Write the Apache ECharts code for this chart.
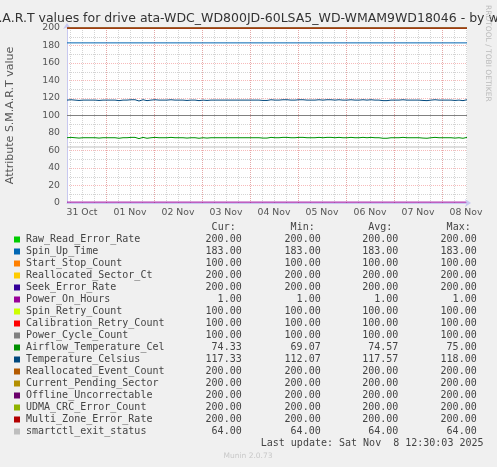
<!DOCTYPE html>
<html><head><meta charset="utf-8">
<script src="https://cdn.jsdelivr.net/npm/echarts@6/dist/echarts.min.js"></script>
<style>html,body{margin:0;padding:0;background:#F0F0F0}#c{width:497px;height:467px}</style>
</head><body><div id="c"></div>
<script>
// ---- time axis (hours after 31 Oct 00:00) ----
const startHour = 4.5, endHour = 204.5;
const dayLabels = ['31 Oct','01 Nov','02 Nov','03 Nov','04 Nov','05 Nov','06 Nov','07 Nov','08 Nov'];
const dayLabelHours = [12,36,60,84,108,132,156,180,204];
const dayBoundaryHours = [24,48,72,96,120,144,168,192];
const sixHourTicks = [6,12,18,24,30,36,42,48,54,60,66,72,78,84,90,96,102,108,114,120,126,132,138,144,150,156,162,168,174,180,186,192,198,204];
const yTicks = [0,20,40,60,80,100,120,140,160,180,200];

// ---- series ----
const seriesNames = ['Raw_Read_Error_Rate','Spin_Up_Time','Start_Stop_Count','Reallocated_Sector_Ct','Seek_Error_Rate','Power_On_Hours','Spin_Retry_Count','Calibration_Retry_Count','Power_Cycle_Count','Airflow_Temperature_Cel','Temperature_Celsius','Reallocated_Event_Count','Current_Pending_Sector','Offline_Uncorrectable','UDMA_CRC_Error_Count','Multi_Zone_Error_Rate','smartctl_exit_status'];
const seriesColors = ['#00CC00','#0066B3','#FF8000','#FFCC00','#330099','#990099','#CCFF00','#FF0000','#808080','#008F00','#00487D','#B35A00','#B38F00','#6B006B','#8FB300','#B30000','#BEBEBE'];

// constant series: value at start and end of the window
const spanHours = [startHour, endHour];
const rawReadErrorRate = [200, 200];
const spinUpTime = [183, 183];
const startStopCount = [100, 100];
const reallocatedSectorCt = [200, 200];
const seekErrorRate = [200, 200];
const powerOnHours = [1, 1];
const spinRetryCount = [100, 100];
const calibrationRetryCount = [100, 100];
const powerCycleCount = [100, 100];
const reallocatedEventCount = [200, 200];
const currentPendingSector = [200, 200];
const offlineUncorrectable = [200, 200];
const udmaCrcErrorCount = [200, 200];
const multiZoneErrorRate = [200, 200];
const smartctlExitStatus = [64, 64];

// hourly samples from 31 Oct 04:30 to 08 Nov 12:30
const sampleHours = Array.from({length: 201}, (_, i) => startHour + i);
const airflowTemperature = [
 74.6,74.0,75,75,74.6,74.2,74.2,74.6,74.6,74.6,74.6,74.6,74.6,73.5,74.6,74.6,74.2,74.6,74.6,74.6,74.6,74.6,74.6,74.6,
 74.6,74.0,74.0,74.2,74.6,74.0,74.6,74.2,75,74.2,75,74.6,73.6,75,75,74.6,74.0,74.6,74.6,75,75,75,74.6,74.6,
 74.6,75,74.6,74.2,75,74.6,74.6,74.6,74.6,74.6,74.6,74.6,74.2,74.6,74.6,74.6,74.6,74.6,74.0,74.6,74.6,74.6,74.2,74.6,
 74.6,74.2,74.6,74.6,74.6,74.6,74.6,74.6,74.6,74.6,74.6,74.6,74.6,74.0,74.6,74.6,74.6,74.6,74.6,74.6,74.6,74.6,74.6,74.6,
 74.6,74.6,74.2,75,74.2,74.6,75,75,74.6,74.6,74.6,75,75,74.2,75,75,74.6,74.6,74.6,75,75,74.6,75,75,
 74.6,74.6,74.6,74.6,74.6,74.0,75,75,74.6,75,75,74.6,75,74.2,74.6,75,75,75,74.6,74.6,74.6,74.6,75,74.6,
 74.6,74.6,74.6,75,75,74.6,74.6,75,75,74.6,74.6,75,74.6,74.2,74.0,74.2,74.0,74.2,74.6,74.6,74.6,74.6,74.6,74.6,
 75,74.0,74.6,74.6,74.6,74.6,74.6,74.6,74.6,74.6,74.2,75,74.0,74.2,74.6,74.6,75,74.6,74.6,74.6,74.6,74.0,74.6,74.6,
 74.6,74.6,74.2,74.6,74.6,74.6,74.0,75,75
];
const temperatureCelsius = [
 117.6,117.0,118,118,117.6,117.2,117.2,117.6,117.6,117.6,117.6,117.6,117.6,116.5,117.6,117.6,117.2,117.6,117.6,117.6,117.6,117.6,117.6,117.6,
 117.6,117.0,117.0,117.2,117.6,117.0,117.6,117.2,118,117.2,118,117.6,116.6,118,118,117.6,117.0,117.6,117.6,118,118,118,117.6,117.6,
 117.6,118,117.6,117.2,118,117.6,117.6,117.6,117.6,117.6,117.6,117.6,117.2,117.6,117.6,117.6,117.6,117.6,117.0,117.6,117.6,117.6,117.2,117.6,
 117.6,117.2,117.6,117.6,117.6,117.6,117.6,117.6,117.6,117.6,117.6,117.6,117.6,117.0,117.6,117.6,117.6,117.6,117.6,117.6,117.6,117.6,117.6,117.6,
 117.6,117.6,117.2,118,117.2,117.6,118,118,117.6,117.6,117.6,118,118,117.2,118,118,117.6,117.6,117.6,118,118,117.6,118,118,
 117.6,117.6,117.6,117.6,117.6,117.0,118,118,117.6,118,118,117.6,118,117.2,117.6,118,118,118,117.6,117.6,117.6,117.6,118,117.6,
 117.6,117.6,117.6,118,118,117.6,117.6,118,118,117.6,117.6,118,117.6,117.2,117.0,117.2,117.0,117.2,117.6,117.6,117.6,117.6,117.6,117.6,
 118,117.0,117.6,117.6,117.6,117.6,117.6,117.6,117.6,117.6,117.2,118,117.0,117.2,117.6,117.6,118,117.6,117.6,117.6,117.6,117.0,117.6,117.6,
 117.6,117.6,117.2,117.6,117.6,117.6,117.0,118,118
];

// ---- legend statistics ----
const curValues = [200,183,100,200,200,1,100,100,100,74.33,117.33,200,200,200,200,200,64];
const minValues = [200,183,100,200,200,1,100,100,100,69.07,112.07,200,200,200,200,200,64];
const avgValues = [200,183,100,200,200,1,100,100,100,74.57,117.57,200,200,200,200,200,64];
const maxValues = [200,183,100,200,200,1,100,100,100,75,118,200,200,200,200,200,64];

const titleText = 'S.M.A.R.T values for drive ata-WDC_WD800JD-60LSA5_WD-WMAM9WD18046 - by week';
const yAxisTitle = 'Attribute S.M.A.R.T value';
const lastUpdate = 'Last update: Sat Nov  8 12:30:03 2025';
const footer = 'Munin 2.0.73';
const watermark = 'RRDTOOL / TOBI OETIKER';

const seriesData = [
 [spanHours, rawReadErrorRate],[spanHours, spinUpTime],[spanHours, startStopCount],[spanHours, reallocatedSectorCt],
 [spanHours, seekErrorRate],[spanHours, powerOnHours],[spanHours, spinRetryCount],[spanHours, calibrationRetryCount],
 [spanHours, powerCycleCount],[sampleHours, airflowTemperature],[sampleHours, temperatureCelsius],[spanHours, reallocatedEventCount],
 [spanHours, currentPendingSector],[spanHours, offlineUncorrectable],[spanHours, udmaCrcErrorCount],[spanHours, multiZoneErrorRate],
 [spanHours, smartctlExitStatus]
];

const MONO = '10px "DejaVu Sans Mono"';
const TXT = '#444';
const graphics = [];
graphics.push({type:'text', x:248.5, y:19, style:{text:titleText, font:'12.5px "DejaVu Sans"', fill:'#333', textAlign:'center', textVerticalAlign:'middle'}});
graphics.push({type:'text', x:488, y:5, rotation:-Math.PI/2, style:{text:watermark, font:'7.5px "DejaVu Sans"', fill:'#BBBBBB', textAlign:'left', textVerticalAlign:'middle'}});
const colRight = [241.7, 320.7, 398.3, 476.7];
const headers = ['Cur:','Min:','Avg:','Max:'];
headers.forEach((h, j) => graphics.push({type:'text', x:colRight[j]-6, y:227.5, style:{text:h, font:MONO, fill:TXT, textAlign:'right', textVerticalAlign:'middle'}}));
seriesNames.forEach((n, k) => {
  const y = 239.5 + 12*k;
  graphics.push({type:'rect', shape:{x:14, y:y-3, width:6, height:6}, style:{fill:seriesColors[k]}});
  graphics.push({type:'text', x:26, y:y, style:{text:n, font:MONO, fill:TXT, textAlign:'left', textVerticalAlign:'middle'}});
  [curValues, minValues, avgValues, maxValues].forEach((arr, j) => {
    graphics.push({type:'text', x:colRight[j], y:y, style:{text:arr[k].toFixed(2), font:MONO, fill:TXT, textAlign:'right', textVerticalAlign:'middle'}});
  });
});
graphics.push({type:'text', x:483.5, y:443, style:{text:lastUpdate, font:MONO, fill:TXT, textAlign:'right', textVerticalAlign:'middle'}});
graphics.push({type:'text', x:248, y:456, style:{text:footer, font:'7.5px "DejaVu Sans"', fill:'#C8C8C8', textAlign:'center', textVerticalAlign:'middle'}});

const axisColor = '#C8C8F0';
const majorGrid = {show:true, lineStyle:{color:'rgba(240,130,130,0.55)', width:1, type:[1,1]}};
const minorGrid = {show:true, lineStyle:{color:'#D4D4D4', width:1, type:[1,1]}};

const option = {
  animation: false,
  backgroundColor: '#F0F0F0',
  grid: {left:67, top:28, width:400, height:175, show:true, backgroundColor:'#FFFFFF', borderWidth:0,
         containLabel:false, outerBoundsMode:'none'},
  xAxis: [
    {type:'value', position:'bottom', offset:0, min:startHour, max:endHour, axisLine:{show:false}, axisLabel:{show:false},
     axisTick:{show:false, customValues:sixHourTicks}, splitLine:minorGrid, z:1},
    {type:'value', position:'bottom', offset:0, min:startHour, max:endHour, axisLine:{show:false}, axisLabel:{show:false},
     axisTick:{show:false, customValues:dayBoundaryHours}, splitLine:majorGrid, z:2},
    {type:'value', position:'bottom', offset:0, min:startHour, max:endHour,
     axisLine:{show:true, lineStyle:{color:axisColor, width:1}, symbol:['none','arrow'], symbolSize:[6,6], symbolOffset:[0,4]},
     axisTick:{show:false, customValues:dayLabelHours}, splitLine:{show:false},
     axisLabel:{show:true, customValues:dayLabelHours, margin:5, color:'#555', fontFamily:'DejaVu Sans', fontSize:9.3,
       formatter: v => dayLabels[dayLabelHours.indexOf(Math.round(v))] || ''}, z:3}
  ],
  yAxis: {type:'value', min:0, max:200, interval:20,
    name: yAxisTitle, nameLocation:'middle', nameGap:51, nameRotate:90,
    nameTextStyle:{color:'#555', fontFamily:'DejaVu Sans', fontSize:11},
    axisLine:{show:true, lineStyle:{color:axisColor, width:1}, symbol:['none','arrow'], symbolSize:[6,6], symbolOffset:[0,5]},
    axisTick:{show:false},
    axisLabel:{margin:7, color:'#555', fontFamily:'DejaVu Sans', fontSize:9.3, formatter: v => yTicks.includes(v) ? String(v) : ''},
    splitLine: majorGrid,
    minorTick:{show:false, splitNumber:2},
    minorSplitLine: minorGrid
  },
  series: seriesData.map((d, k) => ({
    name: seriesNames[k], type:'line', xAxisIndex:2, showSymbol:false, symbol:'none', silent:true,
    lineStyle:{color:seriesColors[k], width:1}, itemStyle:{color:seriesColors[k]},
    data: d[0].map((x, i) => [x, d[1][i]])
  })),
  graphic: graphics
};
const chart = echarts.init(document.getElementById('c'), null, {renderer:'canvas'});
chart.setOption(option);
</script></body></html>
